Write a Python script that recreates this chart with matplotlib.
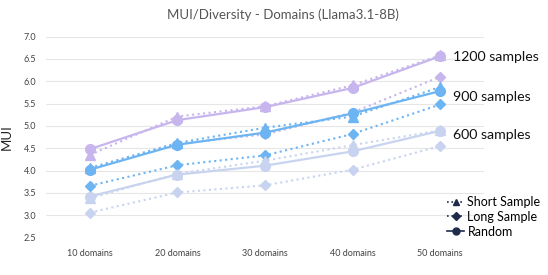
import numpy as np
import matplotlib.pyplot as plt
from matplotlib.lines import Line2D

plt.rcParams['font.family'] = ['Lato', 'DejaVu Sans']

# Data
categories = ["10 domains", "20 domains", "30 domains", "40 domains", "50 domains"]

# 600 samples
s600_random = [3.42, 3.91, 4.11, 4.43, 4.89]
s600_short = [3.38, 3.93, 4.22, 4.57, 4.90]
s600_long = [3.06, 3.51, 3.67, 4.02, 4.55]

# 900 samples
s900_random = [4.02, 4.58, 4.85, 5.28, 5.78]
s900_short = [4.06, 4.62, 4.96, 5.21, 5.87]
s900_long = [3.66, 4.12, 4.34, 4.82, 5.48]

# 1200 samples
s1200_random = [4.48, 5.13, 5.42, 5.85, 6.56]
s1200_short = [4.35, 5.21, 5.44, 5.91, 6.58]
s1200_long = [4.03, 4.60, 4.81, 5.30, 6.10]

group_labels = ["600 samples", "900 samples", "1200 samples"]
label_y = [4.79, 5.65, 6.54]

c600 = '#C8D4EF'
c900 = '#6DB4F2'
c1200 = '#C7B6EE'
dark = '#1E2B4A'

x = np.arange(len(categories))

fig = plt.figure(figsize=(5.48, 2.75), dpi=100)
ax = fig.add_axes([0.084, 0.136, 0.799, 0.731])

groups = [
    (s600_random, s600_short, s600_long, c600),
    (s900_random, s900_short, s900_long, c900),
    (s1200_random, s1200_short, s1200_long, c1200),
]
for rnd, short, long_, col in groups:
    ax.plot(x, long_, color=col, linestyle=':', linewidth=1.5, marker='D', markersize=5, zorder=2)
    ax.plot(x, short, color=col, linestyle=':', linewidth=1.5, marker='^', markersize=6.5, zorder=3)
    ax.plot(x, rnd, color=col, linestyle='-', linewidth=1.6, marker='o', markersize=7, zorder=4)

for lab, yy in zip(group_labels, label_y):
    ax.text(4.15, yy, lab, fontsize=10.2, va='center', ha='left', color='#111111', zorder=6)

ax.set_xlim(-0.5, 4.5)
ax.set_ylim(2.5, 7.0)
ax.set_yticks(np.arange(2.5, 7.01, 0.5))
ax.set_yticklabels(["%.1f" % v for v in np.arange(2.5, 7.01, 0.5)])
ax.set_xticks(x)
ax.set_xticklabels(categories)
ax.tick_params(axis='both', length=0, labelsize=6.5, colors='#444444', pad=7)
ax.tick_params(axis='x', pad=8)
ax.grid(axis='y', color='#E6E6E6', linewidth=0.8)
ax.set_axisbelow(True)
for sp in ax.spines.values():
    sp.set_visible(False)

ax.set_ylabel("MUI", fontsize=9.5, color='#222222', labelpad=8)
fig.text(0.517, 0.945, "MUI/Diversity - Domains (Llama3.1-8B)", ha='center', va='center',
         fontsize=9.5, color='#555555')

handles = [
    Line2D([], [], color=dark, linestyle=':', marker='^', markersize=5, linewidth=1.2),
    Line2D([], [], color=dark, linestyle=':', marker='D', markersize=4, linewidth=1.2),
    Line2D([], [], color=dark, linestyle='-', marker='o', markersize=5, linewidth=1.2),
]
leg = fig.legend(handles, ["Short Sample", "Long Sample", "Random"], loc='upper left',
                 bbox_to_anchor=(0.805, 0.31), frameon=False, fontsize=9,
                 handlelength=1.3, handletextpad=0.3, labelspacing=0.22, borderpad=0)
leg.set_zorder(7)

fig.savefig("out.png", dpi=100)
